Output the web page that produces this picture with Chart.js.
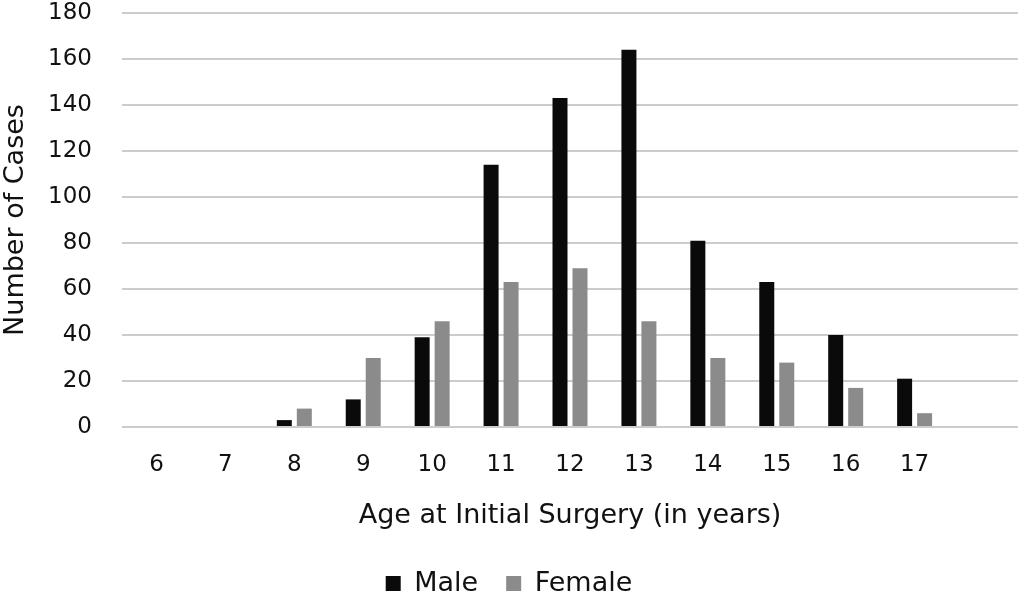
<!DOCTYPE html>
<html>
<head>
<meta charset="utf-8">
<script src="https://cdn.jsdelivr.net/npm/chart.js@4/dist/chart.umd.min.js"></script>
<style>
html,body{margin:0;padding:0;background:#fff;}
#wrap{width:1020px;height:597px;position:relative;}
</style>
</head>
<body>
<div id="wrap"><canvas id="c" width="1020" height="597"></canvas></div>
<script>
const ages = ['6','7','8','9','10','11','12','13','14','15','16','17',''];
const male = [0,0,3,12,39,114,143,164,81,63,40,21,null];
const female = [0,0,8,30,46,63,69,46,30,28,17,6,null];
const yTicks = [0,20,40,60,80,100,120,140,160,180];

const FONT = '"DejaVu Sans", "Liberation Sans", Arial, sans-serif';
Chart.defaults.font.family = FONT;
Chart.defaults.color = '#111';

new Chart(document.getElementById('c'), {
  type: 'bar',
  data: {
    labels: ages,
    datasets: [
      {label:'Male', data: male, backgroundColor:'#0a0a0a', borderWidth:0, categoryPercentage:0.58, barPercentage:0.75},
      {label:'Female', data: female, backgroundColor:'#8b8b8b', borderWidth:0, categoryPercentage:0.58, barPercentage:0.75}
    ]
  },
  options: {
    responsive:false,
    animation:false,
    devicePixelRatio:1,
    layout:{padding:{top:13,right:2,left:0,bottom:-10}},
    plugins:{
      legend:{
        position:'bottom',
        labels:{
          font:{size:27, family:FONT},
          color:'#111',
          boxWidth:15, boxHeight:15,
          padding:28
        }
      },
      tooltip:{enabled:false}
    },
    scales:{
      x:{
        grid:{display:false},
        border:{display:false},
        afterFit:(s)=>{ s.height = 115; s.paddingLeft = 0; s.paddingRight = 0; },
        ticks:{font:{size:23}, color:'#111', padding:16, maxRotation:0, autoSkip:false},
        title:{display:true, text:'Age at Initial Surgery (in years)', font:{size:27}, color:'#111', padding:{top:0, bottom:10}}
      },
      y:{
        min:0, max:180,
        afterBuildTicks:(s)=>{ s.ticks = yTicks.map(v=>({value:v})); },
        afterFit:(s)=>{ s.width = 122; s.paddingTop = 0; s.paddingBottom = 0; },
        grid:{color:'#cccccc', lineWidth:2, drawTicks:false},
        border:{display:false},
        ticks:{font:{size:23}, color:'#111', padding:30},
        title:{display:true, text:'Number of Cases', font:{size:27}, color:'#111', padding:{top:0,bottom:0}}
      }
    }
  }
});
</script>
</body>
</html>
